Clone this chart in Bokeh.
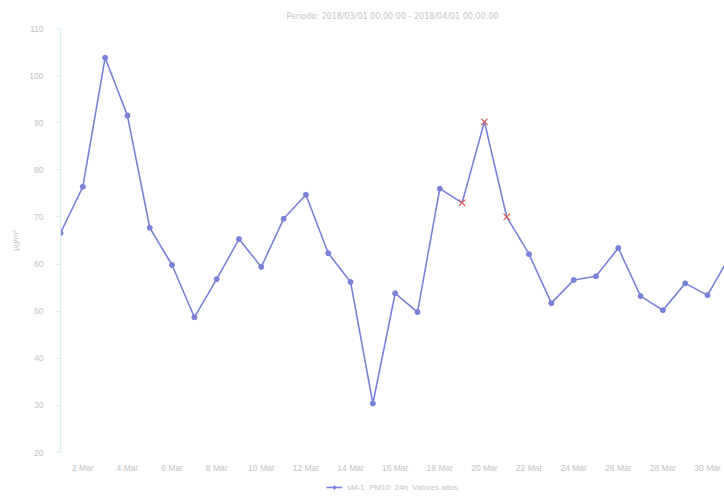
from bokeh.plotting import figure
from bokeh.models import Range1d, FixedTicker, Legend, LegendItem
from bokeh.layouts import column
from bokeh.embed import file_html
from bokeh.resources import INLINE

days = list(range(1, 32))
pm10 = [66.6, 76.4, 103.8, 91.5, 67.7, 59.8, 48.7, 56.8, 65.3, 59.4,
        69.6, 74.7, 62.3, 56.2, 30.4, 53.8, 49.8, 76.0, 73.0, 90.2,
        70.0, 62.1, 51.7, 56.6, 57.4, 63.4, 53.2, 50.2, 55.9, 53.4, 61.7]
high_days = [19, 20, 21]
high_vals = [73.0, 90.2, 70.0]
tick_days = list(range(2, 31, 2))
tick_labels = [f"{d} Mar" for d in tick_days]
y_ticks = [20, 30, 40, 50, 60, 70, 80, 90, 100, 110]

TXT = "#c4c4c4"
LINE = "#7a82d8"
RED = "#e06060"
NAN = float("nan")

p = figure(width=724, height=476, output_backend="svg", toolbar_location=None,
           x_range=Range1d(1, 30.76), y_range=Range1d(20, 110),
           min_border_left=60, min_border_right=0, min_border_top=28, min_border_bottom=24,
           title="Periodo: 2018/03/01 00:00:00 - 2018/04/01 00:00:00")
p.outline_line_color = None
p.title.align = "center"
p.title.vertical_align = "top"
p.title.text_font_size = "8px"
p.title.text_font_style = "normal"
p.title.text_color = TXT
p.title.text_font = "DejaVu Sans"
p.title.standoff = 12

p.xgrid.grid_line_color = None
p.ygrid.grid_line_color = None

p.xaxis.ticker = FixedTicker(ticks=tick_days)
p.xaxis.major_label_overrides = {d: l for d, l in zip(tick_days, tick_labels)}
p.xaxis.axis_line_color = None
p.xaxis.major_tick_line_color = None
p.xaxis.minor_tick_line_color = None
p.xaxis.major_label_text_color = TXT
p.xaxis.major_label_text_font_size = "8.5px"
p.xaxis.major_label_standoff = 4

p.yaxis.ticker = FixedTicker(ticks=y_ticks)
p.yaxis.axis_line_color = "#d6eff3"
p.yaxis.major_tick_line_color = "#d6eff3"
p.yaxis.major_tick_out = 4
p.yaxis.major_tick_in = 0
p.yaxis.minor_tick_line_color = None
p.yaxis.major_label_text_color = TXT
p.yaxis.major_label_text_font_size = "8.5px"
p.yaxis.major_label_standoff = 13
p.yaxis.axis_label = "µg/m³"
p.yaxis.axis_label_text_color = TXT
p.yaxis.axis_label_text_font_size = "8px"
p.yaxis.axis_label_text_font_style = "normal"
p.yaxis.axis_label_standoff = 6

normal_days = [d for d in days if d not in high_days]
normal_vals = [v for d, v in zip(days, pm10) if d not in high_days]

p.line(days, pm10, line_color=LINE, line_width=1.6)
p.scatter(normal_days, normal_vals, marker="circle", size=5, fill_color=LINE, line_color=LINE)
p.scatter(high_days, high_vals, marker="x", size=9, line_color=RED, line_width=1.2)

# legend strip below the chart (glyphs with no visible data, only for the legend key)
q = figure(width=724, height=22, output_backend="svg", toolbar_location=None,
           min_border=0, x_range=Range1d(0, 1), y_range=Range1d(0, 1))
q.axis.visible = False
q.grid.visible = False
q.outline_line_color = None
lg_line = q.line([NAN, NAN], [NAN, NAN], line_color=LINE, line_width=1.6)
lg_pts = q.scatter([NAN], [NAN], marker="diamond", size=8, fill_color=LINE, line_color=LINE)
legend = Legend(items=[LegendItem(label="sM-1  PM10  24h  Valores altos", renderers=[lg_line, lg_pts])],
                orientation="horizontal", location="center",
                label_text_font_size="8px", label_text_color=TXT,
                glyph_width=16, glyph_height=10, label_height=10,
                padding=2, margin=0, spacing=0,
                border_line_color=None, background_fill_alpha=0)
q.add_layout(legend)

open("out.html", "w").write(file_html(column(p, q, spacing=0), INLINE))
